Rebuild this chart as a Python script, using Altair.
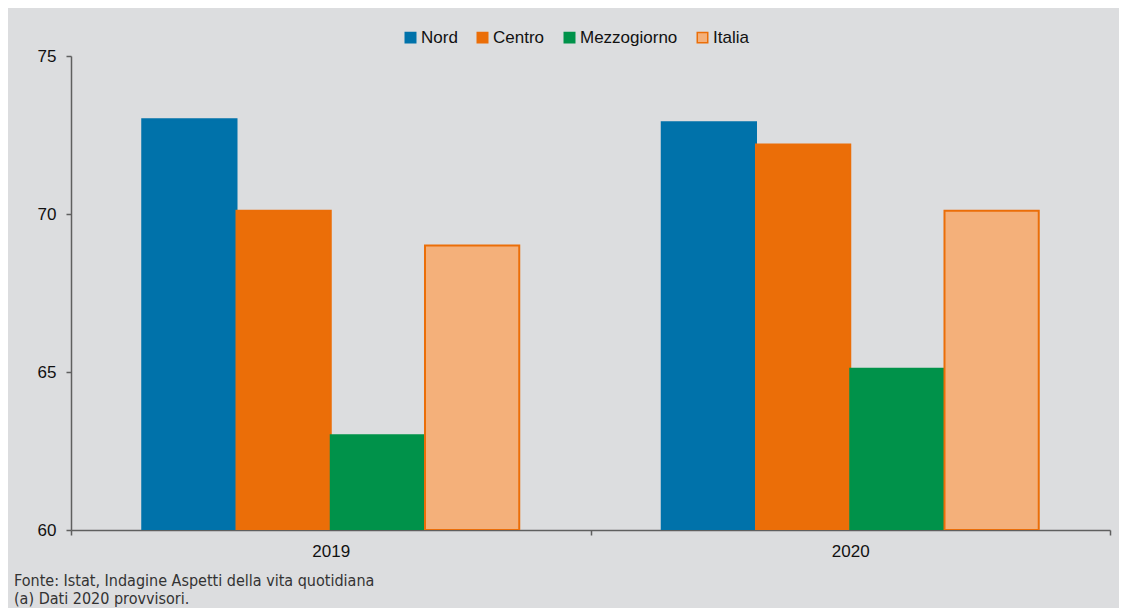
import altair as alt
import pandas as pd

years = ["2019", "2020"]
series = ["Nord", "Centro", "Mezzogiorno", "Italia"]
nord = [73.0, 72.9]
centro = [70.1, 72.2]
mezzogiorno = [63.0, 65.1]
italia = [69.0, 70.1]
y_ticks = [60, 65, 70, 75]
notes = ["Fonte: Istat, Indagine Aspetti della vita quotidiana", "(a) Dati 2020 provvisori."]

fill_colors = ["#0072aa", "#eb6e08", "#00924a", "#f4b07a"]
stroke_colors = ["#0072aa", "#eb6e08", "#00924a", "#eb6e08"]

rows = []
for name, vals in zip(series, [nord, centro, mezzogiorno, italia]):
    for yr, v in zip(years, vals):
        rows.append({"anno": yr, "area": name, "valore": v})
df = pd.DataFrame(rows)

notes_df = pd.DataFrame({"testo": notes, "riga": [0, 1]})

BG = "#dcdddf"
AX = "#5f5f5f"
FONT = "Liberation Sans"
NARROW = "Liberation Sans Narrow, DejaVu Sans Condensed, Roboto Condensed, Roboto, sans-serif"

bars = alt.Chart(df).mark_bar(strokeWidth=2, clip=True).encode(
    x=alt.X("anno:N", sort=years, title=None,
            scale=alt.Scale(paddingInner=0, paddingOuter=0),
            axis=alt.Axis(labelAngle=0, tickBand="extent", domainColor=AX, domainWidth=1.5,
                          tickColor=AX, tickWidth=1.5, tickSize=5, labelFontSize=17,
                          labelColor="#111", labelFont=FONT, labelPadding=8)),
    xOffset=alt.XOffset("area:N", sort=series,
                        scale=alt.Scale(paddingInner=0, paddingOuter=0.756)),
    y=alt.Y("valore:Q", title=None,
            scale=alt.Scale(domain=[60, 75], nice=False, zero=False),
            axis=alt.Axis(values=y_ticks, grid=False, domainColor=AX, domainWidth=1.5,
                          tickColor=AX, tickWidth=1.5, tickSize=5, labelFontSize=17,
                          labelColor="#111", labelFont=FONT, labelPadding=10)),
    y2=alt.datum(60),
    fill=alt.Fill("area:N", sort=series,
                  scale=alt.Scale(domain=series, range=fill_colors),
                  legend=alt.Legend(title=None, orient="none", direction="horizontal",
                                    legendX=331, legendY=-27, symbolType="square",
                                    symbolSize=110, symbolStrokeWidth=1.5,
                                    labelFontSize=17, labelFont=FONT, labelColor="#111",
                                    columnPadding=16, labelOffset=2)),
    stroke=alt.Stroke("area:N", sort=series,
                      scale=alt.Scale(domain=series, range=stroke_colors), legend=None),
)

text = alt.Chart(notes_df).mark_text(
    align="left", baseline="middle", font=NARROW, fontSize=16, color="#333"
).encode(
    x=alt.value(-57),
    y=alt.Y("riga:Q", axis=None, scale=alt.Scale(domain=[0, 1], range=[525, 543])),
    text="testo:N",
)

chart = alt.layer(bars, text).resolve_scale(y="independent").properties(
    width=1039, height=474,
    autosize=alt.AutoSizeParams(type="none"),
    padding={"left": 63, "top": 48, "right": 9, "bottom": 78},
    background=BG,
).configure_view(stroke=None).configure_axisY(orient="left")

chart.save("out.html", embed_options={"renderer": "svg", "actions": False})
